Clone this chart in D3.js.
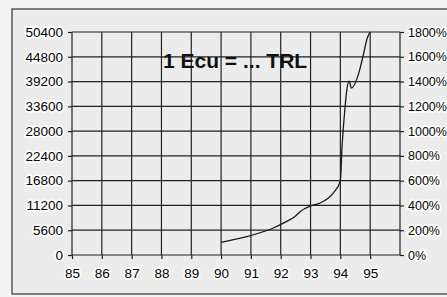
<!DOCTYPE html>
<html>
<head>
<meta charset="utf-8">
<script src="https://cdn.jsdelivr.net/npm/d3@7"></script>
<style>
  body { margin: 0; background: #f4f4f4; }
  svg { display: block; }
  .tick text { font-family: "Liberation Sans", Arial, sans-serif; font-size: 13.5px; fill: #000;
               stroke: #fff; stroke-width: 3.5px; paint-order: stroke; stroke-linejoin: round; }
  .right .tick text { font-size: 12.5px; }
  .axis path { display: none; }
  .axis line { stroke: #222; stroke-width: 1.2; }
</style>
</head>
<body>
<script>
// Exchange rate, Turkish lira per ecu
var dates = [90.0, 90.85, 91.75, 92.2, 92.48, 92.65, 93.0, 93.32, 93.76, 94.0, 94.05, 94.15, 94.22, 94.3, 94.37, 94.6, 94.77, 94.9, 95.0];
var rates = [2870, 4140, 6100, 7600, 8700, 9800, 11070, 11750, 14000, 16700, 23700, 32800, 37500, 39300, 37700, 40700, 45200, 49000, 50400];

var yearTicks = [85, 86, 87, 88, 89, 90, 91, 92, 93, 94, 95];
var leftTicks = [0, 5600, 11200, 16800, 22400, 28000, 33600, 39200, 44800, 50400];
var rightTicks = [0, 200, 400, 600, 800, 1000, 1200, 1400, 1600, 1800];
var title = "1 Ecu = ... TRL";

var svgWidth = 447;
var svgHeight = 297;

var plot = { left: 72, right: 400, top: 32, bottom: 255 };

var svg = d3.select("body").append("svg")
    .attr("width", svgWidth)
    .attr("height", svgHeight);

// Scanned frame
svg.append("rect")
    .attr("x", 12).attr("y", 9)
    .attr("width", svgWidth).attr("height", 285)
    .attr("fill", "#ececec")
    .attr("stroke", "#333")
    .attr("stroke-width", 1.2);

var xScale = d3.scaleLinear().domain([85, 96]).range([plot.left, plot.right]);
var yScale = d3.scaleLinear().domain([0, 50400]).range([plot.bottom, plot.top]);
var yPct = d3.scaleLinear().domain([0, 1800]).range([plot.bottom, plot.top]);

// Grid
var grid = svg.append("g").attr("stroke", "#222").attr("stroke-width", 1.2);
grid.selectAll(".vgrid")
    .data(yearTicks.concat([96]))
    .enter().append("line")
    .attr("x1", function (d) { return xScale(d); })
    .attr("x2", function (d) { return xScale(d); })
    .attr("y1", plot.top)
    .attr("y2", plot.bottom);
grid.selectAll(".hgrid")
    .data(leftTicks)
    .enter().append("line")
    .attr("x1", plot.left)
    .attr("x2", plot.right)
    .attr("y1", function (d) { return yScale(d); })
    .attr("y2", function (d) { return yScale(d); });

// Axes
svg.append("g")
    .attr("class", "axis")
    .attr("transform", "translate(0," + plot.bottom + ")")
    .call(d3.axisBottom(xScale).tickValues(yearTicks).tickSize(4).tickPadding(9)
        .tickFormat(function (d) { return String(d); }));

svg.append("g")
    .attr("class", "axis")
    .attr("transform", "translate(" + plot.left + ",0)")
    .call(d3.axisLeft(yScale).tickValues(leftTicks).tickSize(4).tickPadding(5)
        .tickFormat(function (d) { return String(d); }));

svg.append("g")
    .attr("class", "axis right")
    .attr("transform", "translate(" + plot.right + ",0)")
    .call(d3.axisRight(yPct).tickValues(rightTicks).tickSize(4).tickPadding(4)
        .tickFormat(function (d) { return d + "%"; }));

// Rate line
var line = d3.line()
    .x(function (d, i) { return xScale(dates[i]); })
    .y(function (d) { return yScale(d); })
    .curve(d3.curveMonotoneX);

svg.append("path")
    .datum(rates)
    .attr("d", line)
    .attr("fill", "none")
    .attr("stroke", "#1a1a1a")
    .attr("stroke-width", 1.3);

// Title
svg.append("text")
    .attr("x", 163)
    .attr("y", 68)
    .attr("font-family", "Liberation Sans, Arial, sans-serif")
    .attr("font-size", 21)
    .attr("font-weight", "bold")
    .attr("fill", "#111")
    .text(title);
</script>
</body>
</html>
